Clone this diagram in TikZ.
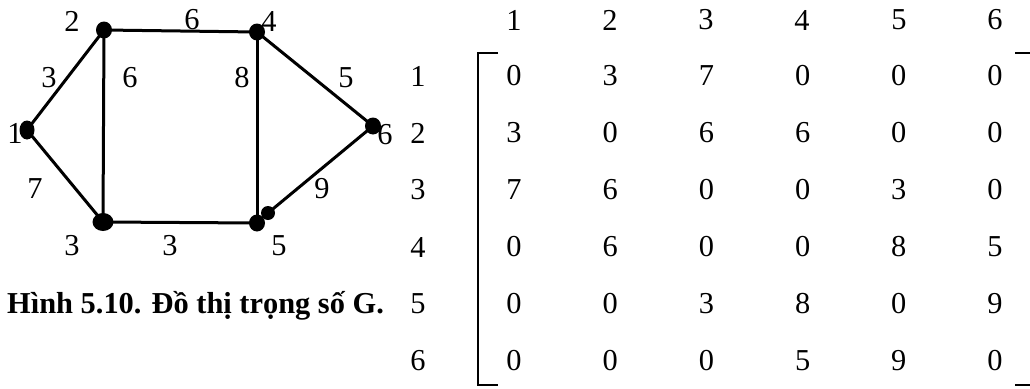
\documentclass[tikz,border=0pt]{standalone}
\usepackage{fontspec}
\setmainfont{Liberation Serif}
\usetikzlibrary{shapes.geometric}
\begin{document}
\begin{tikzpicture}[x=1pt,y=-1pt,
  lbl/.style={inner sep=0pt,font=\fontsize{30.4}{33}\selectfont},
  vdot/.style={fill=black,draw=none,ellipse,inner sep=0pt,minimum width=16pt,minimum height=17pt},
  edge/.style={line width=3pt},
  brk/.style={line width=2.2pt}]
\useasboundingbox (0,0) rectangle (1030,388);
% vertices
\node[vdot,minimum width=15pt,minimum height=19pt] (v1) at (27,130) {};
\node[vdot] (v2) at (104,30) {};
\node[vdot] (v4) at (257,32) {};
\node[vdot] (v6) at (373,126) {};
\node[vdot,minimum width=21pt,minimum height=18pt] (v3) at (103,222) {};
\node[vdot] (v5) at (257,223) {};
\node[vdot,minimum width=14pt,minimum height=14pt] (v5b) at (268,213) {};
% edges
\draw[edge] (v1.center) -- (v2.center);
\draw[edge] (v1.center) -- (v3.center);
\draw[edge] (v2.center) -- (v4.center);
\draw[edge] (v2.center) -- (v3.center);
\draw[edge] (v4.center) -- (v5.center);
\draw[edge] (v4.center) -- (v6.center);
\draw[edge] (v3.center) -- (v5.center);
\draw[edge] (v6.center) -- (v5b.center);
% vertex labels
\node[lbl] (n1) at (15,133) {1};
\node[lbl] (n2) at (72,21) {2};
\node[lbl] (n3) at (72,246) {3};
\node[lbl] (n4) at (269,21) {4};
\node[lbl] (n5) at (279,246) {5};
\node[lbl] (n6) at (385,135) {6};
% weights
\node[lbl] (w12) at (49,78) {3};
\node[lbl] (w23) at (130,78) {6};
\node[lbl] (w24) at (192,20) {6};
\node[lbl] (w45) at (242,78) {8};
\node[lbl] (w46) at (346,78) {5};
\node[lbl] (w13) at (35,189) {7};
\node[lbl] (w56) at (322,189) {9};
\node[lbl] (w35) at (170,246) {3};
% caption
\node[lbl,font=\fontsize{30.4}{33}\selectfont\bfseries,anchor=base west] (cap) at (7,313) {Hình 5.10. Đồ thị trọng số G.};
% matrix header and row labels
\foreach \c/\x in {1/514,2/610,3/706,4/802,5/899,6/995}
  \node[lbl] (h\c) at (\x,20) {\c};
\foreach \r/\y in {1/76,2/133,3/190,4/247,5/304,6/361}
  \node[lbl] (r\r) at (418,\y) {\r};
% matrix entries
\foreach \r/\y/\vals in {1/76/{0,3,7,0,0,0},2/133/{3,0,6,6,0,0},3/190/{7,6,0,0,3,0},4/247/{0,6,0,0,8,5},5/304/{0,0,3,8,0,9},6/361/{0,0,0,5,9,0}}{
  \foreach \v [count=\c] in \vals {
    \pgfmathsetmacro{\xx}{514+96.2*(\c-1)}
    \node[lbl] (m\r\c) at (\xx,\y) {\v};
  }
}
% brackets
\draw[brk] (498,53) -- (478,53) -- (478,385) -- (498,385);
\draw[brk] (1015,53) -- (1030,53);
\draw[brk] (1015,385) -- (1030,385);
\end{tikzpicture}
\end{document}
